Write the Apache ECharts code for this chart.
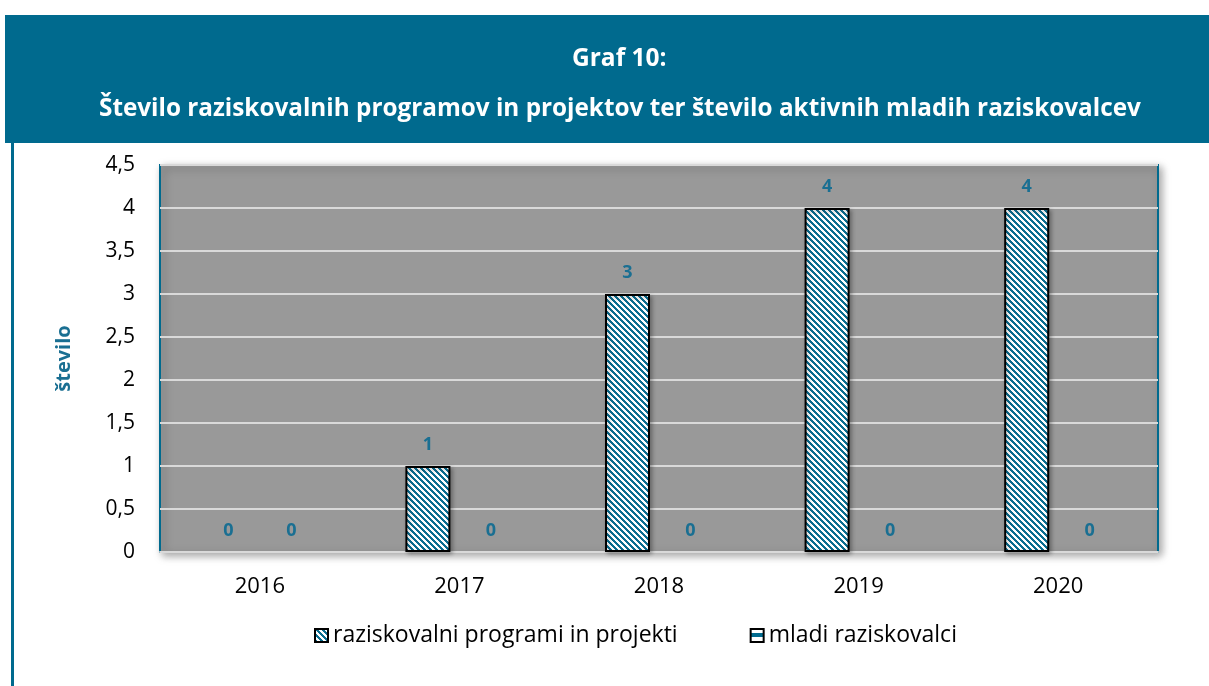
<!DOCTYPE html>
<html>
<head>
<meta charset="utf-8">
<script src="https://cdn.jsdelivr.net/npm/echarts@6/dist/echarts.min.js"></script>
<style>
  html, body { margin: 0; padding: 0; background: #fff; }
  #chart { width: 1209px; height: 686px; }
</style>
</head>
<body>
<div id="chart"></div>
<script>
// data
var years = ['2016', '2017', '2018', '2019', '2020'];
var programi = [0, 1, 3, 4, 4];
var mladi = [0, 0, 0, 0, 0];
var seriesNames = ['raziskovalni programi in projekti', 'mladi raziskovalci'];

var TEAL = '#006a8e';
var FONT = 'Open Sans';

// diagonal hatch for bars
function hatch() {
    var c = document.createElement('canvas');
    c.width = 6; c.height = 6;
    var ctx = c.getContext('2d');
    var img = ctx.createImageData(6, 6);
    for (var y = 0; y < 6; y++) {
        for (var x = 0; x < 6; x++) {
            var i = (y * 6 + x) * 4;
            var on = ((x - y + 12) % 6) < 3;
            img.data[i] = on ? 0x0b : 255;
            img.data[i+1] = on ? 0x6e : 255;
            img.data[i+2] = on ? 0x91 : 255;
            img.data[i+3] = 255;
        }
    }
    ctx.putImageData(img, 0, 0);
    return c;
}
// horizontal band pattern (legend of empty series)
function band() {
    var c = document.createElement('canvas');
    c.width = 4; c.height = 13;
    var ctx = c.getContext('2d');
    ctx.fillStyle = '#fff';
    ctx.fillRect(0, 0, 4, 13);
    ctx.fillStyle = TEAL;
    ctx.fillRect(0, 4, 4, 4);
    return c;
}

// zero bars have no visible outline in the original
function noZeroBorder(arr) {
    return arr.map(function (v) {
        return v === 0 ? { value: v, itemStyle: { borderWidth: 0, shadowBlur: 0, shadowOffsetX: 0, shadowOffsetY: 0 } } : v;
    });
}

var chart = echarts.init(document.getElementById('chart'));

var labelStyle = {
    show: true,
    position: 'top',
    distance: 12,
    color: '#1a6f92',
    fontFamily: FONT,
    fontWeight: 'bold',
    fontSize: 18
};

chart.setOption({
    animation: false,
    textStyle: { fontFamily: FONT },
    graphic: [
        { type: 'rect', shape: { x: 5, y: 15, width: 1204, height: 128 }, style: { fill: TEAL }, z: -1 },
        { type: 'rect', shape: { x: 11, y: 143, width: 3, height: 543 }, style: { fill: TEAL }, z: -1 }
    ],
    title: [
        { text: 'Graf 10:', left: 567, top: 42,
          textStyle: { color: '#fff', fontSize: 24.5, fontWeight: 'bold', fontFamily: FONT } },
        { text: 'Število raziskovalnih programov in projektov ter število aktivnih mladih raziskovalcev',
          left: 94, top: 92,
          textStyle: { color: '#fff', fontSize: 24.3, fontWeight: 'bold', fontFamily: FONT } }
    ],
    grid: {
        left: 160, right: 51, top: 165, bottom: 134,
        show: true,
        backgroundColor: '#999999',
        borderColor: TEAL,
        borderWidth: 2,
        shadowColor: 'rgba(0,0,0,0.35)',
        shadowBlur: 8,
        shadowOffsetX: 3,
        shadowOffsetY: 3
    },
    legend: {
        top: 619,
        left: 309,
        icon: 'rect',
        itemWidth: 13,
        itemHeight: 13,
        itemGap: 72,
        textStyle: { fontSize: 23, color: '#000', fontFamily: FONT },
        data: seriesNames
    },
    xAxis: {
        type: 'category',
        data: years,
        axisLine: { lineStyle: { color: '#d9d9d9', width: 2 } },
        axisTick: { show: false },
        axisLabel: { fontSize: 22, color: '#000', margin: 24, fontFamily: FONT }
    },
    yAxis: {
        type: 'value',
        min: 0,
        max: 4.5,
        interval: 0.5,
        name: 'število',
        nameLocation: 'middle',
        nameGap: 86,
        nameRotate: 90,
        nameTextStyle: { color: '#1a6f92', fontWeight: 'bold', fontSize: 20, fontFamily: FONT },
        axisLine: { show: false },
        axisTick: { show: false },
        splitLine: { lineStyle: { color: '#d9d9d9', width: 2 } },
        axisLabel: {
            fontSize: 21, color: '#000', margin: 25, fontFamily: FONT,
            formatter: function (v) { return String(v).replace('.', ','); }
        }
    },
    series: [
        {
            name: seriesNames[0],
            type: 'bar',
            data: noZeroBorder(programi),
            barWidth: 45,
            barGap: '40%',
            itemStyle: {
                color: { image: hatch(), repeat: 'repeat' },
                borderColor: '#000',
                borderWidth: 2,
                shadowColor: 'rgba(0,0,0,0.3)',
                shadowBlur: 4,
                shadowOffsetX: 2,
                shadowOffsetY: 2
            },
            label: labelStyle
        },
        {
            name: seriesNames[1],
            type: 'bar',
            data: noZeroBorder(mladi),
            barWidth: 45,
            itemStyle: {
                color: { image: band(), repeat: 'repeat' },
                borderColor: '#000',
                borderWidth: 2
            },
            label: labelStyle
        }
    ]
});
</script>
</body>
</html>
